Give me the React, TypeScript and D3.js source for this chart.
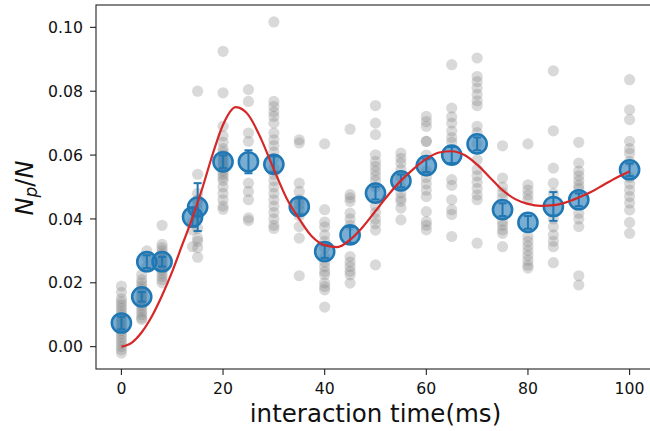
import React, { useEffect } from "react";
import * as d3 from "d3";

// mean of each shot group, with its error
const meanTimes = [0, 4, 5, 8, 14, 15, 20, 25, 30, 35, 40, 45, 50, 55, 60, 65, 70, 75, 80, 85, 90, 100];
const meanValues = [
  0.0074, 0.0156, 0.0266, 0.0266, 0.0406, 0.0437, 0.0579, 0.0579, 0.0571, 0.0439, 0.0298,
  0.035, 0.0481, 0.0519, 0.0567, 0.06, 0.0635, 0.0429, 0.0389, 0.0439, 0.046, 0.0554,
];
const meanErrors = [
  0.002, 0.0015, 0.002, 0.0015, 0.003, 0.0075, 0.002, 0.0036, 0.0025, 0.0025, 0.002,
  0.0025, 0.002, 0.002, 0.002, 0.0025, 0.002, 0.002, 0.002, 0.0045, 0.002, 0.002,
];

// single shots (gray)
const shotTimes = [0, 4, 5, 8, 14, 15, 20, 25, 30, 35, 40, 45, 50, 55, 60, 65, 70, 75, 80, 85, 90, 100];
const shotValues = [
  [0.019, 0.017, 0.015, 0.014, 0.013, 0.012, 0.011, 0.01, 0.009, 0.008, 0.007, 0.006, 0.005, 0.004, 0.003, 0.002, 0.001, 0.0, -0.001, -0.002],
  [0.0225, 0.021, 0.02, 0.019, 0.018, 0.017, 0.016, 0.015, 0.014, 0.013, 0.012, 0.011, 0.01, 0.009, 0.0085],
  [0.03, 0.028, 0.025],
  [0.038, 0.032, 0.031, 0.03, 0.029, 0.028, 0.027, 0.026, 0.025, 0.024, 0.023, 0.022, 0.021, 0.02],
  [0.039, 0.0366, 0.0313],
  [0.08, 0.054, 0.048, 0.046, 0.045, 0.043, 0.041, 0.04, 0.037, 0.034, 0.033, 0.031, 0.028],
  [0.0925, 0.0795, 0.069, 0.066, 0.064, 0.062, 0.061, 0.06, 0.059, 0.058, 0.057, 0.056, 0.055, 0.054, 0.053, 0.052, 0.05, 0.048, 0.046, 0.044, 0.043],
  [0.0805, 0.0768, 0.0669, 0.0643, 0.0512, 0.0486, 0.046, 0.0403, 0.0395],
  [0.1017, 0.0768, 0.0752, 0.0735, 0.0721, 0.07, 0.0669, 0.0648, 0.063, 0.061, 0.059, 0.056, 0.054, 0.052, 0.05, 0.048, 0.046, 0.044, 0.042, 0.04, 0.038, 0.037],
  [0.0648, 0.0638, 0.0512, 0.0486, 0.046, 0.0445, 0.0429, 0.041, 0.0376, 0.034, 0.0222],
  [0.0635, 0.0429, 0.039, 0.0375, 0.035, 0.033, 0.031, 0.028, 0.0265, 0.025, 0.0235, 0.0225, 0.02, 0.0188, 0.0178, 0.0124],
  [0.0681, 0.0476, 0.0466, 0.0455, 0.0418, 0.04, 0.038, 0.0282, 0.0265, 0.0251, 0.0236, 0.0225, 0.0199],
  [0.0755, 0.07, 0.0664, 0.0601, 0.058, 0.0565, 0.055, 0.0535, 0.052, 0.05, 0.044, 0.042, 0.04, 0.0385, 0.0365, 0.0256],
  [0.0606, 0.059, 0.0575, 0.0555, 0.053, 0.05, 0.0481, 0.0465, 0.0455, 0.0434, 0.0397],
  [0.0721, 0.0705, 0.069, 0.0643, 0.0643, 0.06, 0.055, 0.053, 0.051, 0.049, 0.047, 0.0423, 0.0392, 0.038, 0.0366],
  [0.0883, 0.0747, 0.072, 0.07, 0.0675, 0.0655, 0.064, 0.0523, 0.0505, 0.046, 0.0429, 0.0414, 0.0345],
  [0.0904, 0.0846, 0.083, 0.081, 0.079, 0.077, 0.0755, 0.069, 0.067, 0.0635, 0.0585, 0.0555, 0.0535, 0.0515, 0.0495, 0.0475, 0.046, 0.0324],
  [0.0629, 0.0528, 0.05, 0.0482, 0.0465, 0.0392, 0.038, 0.0366, 0.0355, 0.0313],
  [0.0635, 0.0507, 0.049, 0.0475, 0.046, 0.0345, 0.033, 0.0315, 0.03, 0.0285, 0.027, 0.0255, 0.0246],
  [0.0864, 0.0676, 0.0559, 0.0512, 0.048, 0.04, 0.0375, 0.035, 0.033, 0.0313, 0.0263],
  [0.064, 0.0575, 0.055, 0.0535, 0.052, 0.0505, 0.0495, 0.0418, 0.04, 0.0376, 0.0222, 0.0193],
  [0.0836, 0.0742, 0.0711, 0.0643, 0.062, 0.0605, 0.058, 0.053, 0.051, 0.049, 0.047, 0.045, 0.0428, 0.0389, 0.0355],
];

// fitted curve (red)
const fitTimes = [
  0, 2, 4, 6, 8, 10, 12, 14, 16, 18, 20, 22.5, 25, 27.5, 30, 32.5, 35, 37.5, 40, 42.5, 45, 47.5,
  50, 52.5, 55, 57.5, 60, 62.5, 65, 67.5, 70, 72.5, 75, 77.5, 80, 82.5, 85, 87.5, 90, 92.5, 95, 97.5, 100,
];
const fitValues = [
  0, 0.0012, 0.0045, 0.0095, 0.016, 0.0235, 0.032, 0.0405, 0.05, 0.0605, 0.0695, 0.075, 0.0725,
  0.065, 0.0555, 0.0465, 0.04, 0.0345, 0.0318, 0.0312, 0.0335, 0.0375, 0.0425, 0.0475, 0.052,
  0.0557, 0.0588, 0.0608, 0.0612, 0.06, 0.057, 0.053, 0.049, 0.0462, 0.0447, 0.0441, 0.0443,
  0.0452, 0.0467, 0.0485, 0.0508, 0.053, 0.0549,
];

const xTicks = [0, 20, 40, 60, 80, 100];
const yTicks = [0, 0.02, 0.04, 0.06, 0.08, 0.1];

const W = 650;
const H = 431;
const left = 96;
const right = 655;
const top = 5;
const bottom = 369;
const font = "DejaVu Sans";
const blue = "#1f77b4";

export default function App() {
  useEffect(() => {
    document.body.style.margin = "0";
  }, []);

  const x = d3.scaleLinear().domain([-5, 105]).range([left, right]);
  const y = d3.scaleLinear().domain([-0.007, 0.107]).range([bottom, top]);
  const fmt = d3.format(".2f");

  const fitLine = d3
    .line<number>()
    .x((d, i) => x(fitTimes[i]))
    .y((d) => y(d))
    .curve(d3.curveMonotoneX);

  const shots = shotTimes.flatMap((t, i) => shotValues[i].map((v) => ({ t, v })));

  return (
    <svg width={W} height={H} style={{ display: "block", background: "#fff" }}>
      <defs>
        <clipPath id="plot">
          <rect x={left} y={top} width={right - left} height={bottom - top} />
        </clipPath>
      </defs>
      <g clipPath="url(#plot)">
        {shots.map((d, i) => (
          <circle key={i} cx={x(d.t)} cy={y(d.v)} r={5.6} fill="#808080" fillOpacity={0.3} />
        ))}
        {meanTimes.map((t, i) => {
          const cx = x(t);
          const y1 = y(meanValues[i] + meanErrors[i]);
          const y2 = y(meanValues[i] - meanErrors[i]);
          return (
            <g key={i}>
              <circle cx={cx} cy={y(meanValues[i])} r={9.6} fill={blue} fillOpacity={0.6} stroke={blue} strokeWidth={2.5} />
              <line x1={cx} x2={cx} y1={y1} y2={y2} stroke={blue} strokeWidth={2} />
              <line x1={cx - 4} x2={cx + 4} y1={y1} y2={y1} stroke={blue} strokeWidth={2} />
              <line x1={cx - 4} x2={cx + 4} y1={y2} y2={y2} stroke={blue} strokeWidth={2} />
            </g>
          );
        })}
        <path d={fitLine(fitValues) || ""} fill="none" stroke="#d62728" strokeWidth={2.2} />
      </g>

      {/* frame */}
      <rect x={left} y={top} width={right - left} height={bottom - top} fill="none" stroke="#222" strokeWidth={1.1} />

      {xTicks.map((t) => (
        <g key={t} transform={`translate(${x(t)},${bottom})`}>
          <line y2={6} stroke="#222" strokeWidth={1.1} />
          <text y={25} textAnchor="middle" fontFamily={font} fontSize={15.7} fill="#111">
            {t}
          </text>
        </g>
      ))}
      {yTicks.map((t) => (
        <g key={t} transform={`translate(${left},${y(t)})`}>
          <line x2={-6} stroke="#222" strokeWidth={1.1} />
          <text x={-13} dy="0.36em" textAnchor="end" fontFamily={font} fontSize={15.7} fill="#111">
            {fmt(t)}
          </text>
        </g>
      ))}

      <text x={(left + right) / 2} y={422} textAnchor="middle" fontFamily={font} fontSize={24.5} fill="#111">
        interaction time(ms)
      </text>
      <text transform={`translate(33,188) rotate(-90)`} textAnchor="middle" fontFamily={font} fontSize={24} fill="#111">
        <tspan fontStyle="italic">N</tspan>
        <tspan fontStyle="italic" fontSize={17} dy={4}>p</tspan>
        <tspan dy={-4}>/</tspan>
        <tspan fontStyle="italic">N</tspan>
      </text>
    </svg>
  );
}
